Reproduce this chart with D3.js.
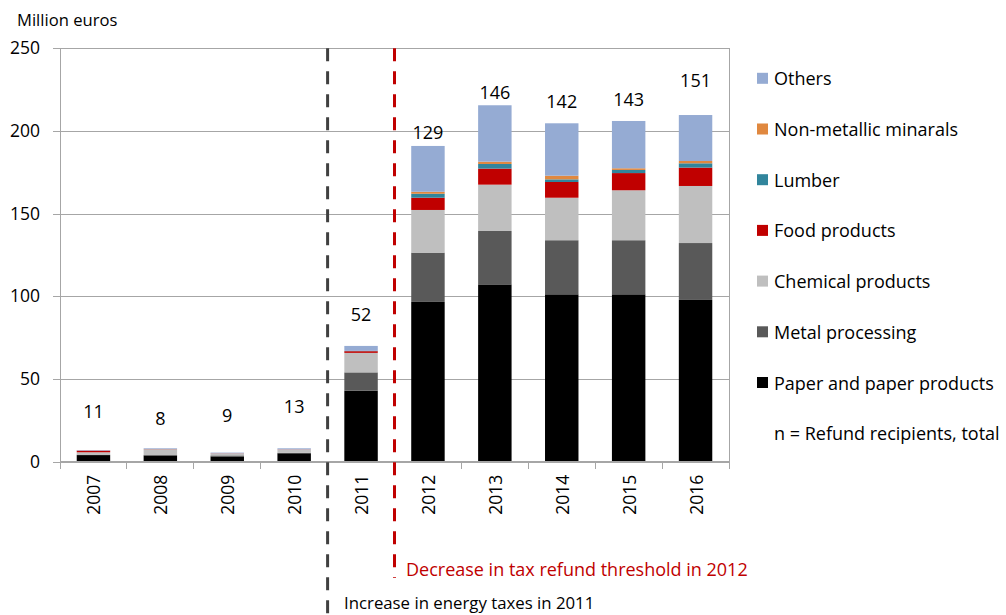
<!DOCTYPE html>
<html>
<head>
<meta charset="utf-8">
<script src="https://cdn.jsdelivr.net/npm/d3@7"></script>
<style>
  html, body { margin: 0; padding: 0; background: #fff; }
  svg { display: block; font-family: "Open Sans", "Noto Sans", sans-serif; }
</style>
</head>
<body>
<svg id="chart" width="1006" height="615"></svg>
<script>
// Energy tax refunds by industry, million euros
const years = ["2007", "2008", "2009", "2010", "2011", "2012", "2013", "2014", "2015", "2016"];

const paper     = [4.0, 3.8, 3.2, 5.1, 42.9, 96.6, 107.2, 101.2, 101.2, 97.8];
const metal     = [0.3, 0.2, 0.6, 0.3, 11.1, 29.8, 32.3, 32.7, 32.7, 34.4];
const chemical  = [1.4, 3.6, 1.2, 2.0, 11.8, 25.8, 28.0, 25.7, 30.2, 34.5];
const food      = [1.0, 0.1, 0.1, 0.1, 1.0, 7.4, 9.7, 9.5, 10.4, 11.1];
const lumber    = [0.0, 0.0, 0.0, 0.0, 0.1, 2.4, 2.8, 1.6, 1.9, 2.6];
const nonmetal  = [0.0, 0.0, 0.0, 0.0, 0.1, 1.2, 1.4, 2.2, 1.0, 1.4];
const others    = [0.3, 0.4, 0.4, 0.6, 3.0, 27.7, 34.1, 31.7, 28.6, 27.8];

// Number of refund recipients per year
const recipients = [11, 8, 9, 13, 52, 129, 146, 142, 143, 151];

const seriesNames  = ["Paper and paper products", "Metal processing", "Chemical products",
                      "Food products", "Lumber", "Non-metallic minarals", "Others"];
const seriesValues = [paper, metal, chemical, food, lumber, nonmetal, others];
const seriesColors = ["#000000", "#595959", "#bfbfbf", "#c00000", "#31859c", "#e0883f", "#95abd3"];

const yTicks = [0, 50, 100, 150, 200, 250];

const events = [
  { after: "2010", text: "Increase in energy taxes in 2011", color: "#404040", textColor: "#000000" },
  { after: "2011", text: "Decrease in tax refund threshold in 2012", color: "#c00000", textColor: "#c00000" }
];

const svg = d3.select("#chart");
const plotLeft = 60, plotRight = 729, plotTop = 48.2, plotBottom = 461.7;

const x = d3.scaleBand().domain(years).range([plotLeft, plotRight]).paddingInner(0.5).paddingOuter(0.25);
const y = d3.scaleLinear().domain([0, 250]).range([plotBottom, plotTop]);
// secondary scale used to place the recipient counts
const yN = d3.scaleLinear().domain([0, 175]).range([plotBottom, plotTop]);

const rows = years.map((yr, i) => {
  const r = { year: yr };
  seriesNames.forEach((n, s) => { r[n] = seriesValues[s][i]; });
  return r;
});
const stacked = d3.stack().keys(seriesNames)(rows);

// gridlines
const grid = svg.append("g")
  .attr("transform", `translate(${plotLeft},0)`)
  .call(d3.axisLeft(y).tickValues(yTicks).tickSize(-(plotRight - plotLeft)).tickFormat(""));
grid.select(".domain").remove();
grid.selectAll("line").attr("stroke", "#a6a6a6").attr("shape-rendering", "crispEdges");

// right frame line
svg.append("line")
  .attr("x1", plotRight).attr("x2", plotRight).attr("y1", plotTop).attr("y2", plotBottom)
  .attr("stroke", "#a6a6a6").attr("shape-rendering", "crispEdges");

// y axis with labels
const yAxis = svg.append("g")
  .attr("transform", `translate(${plotLeft},0)`)
  .call(d3.axisLeft(y).tickValues(yTicks).tickSize(7).tickPadding(13));
yAxis.select(".domain").attr("stroke", "#a6a6a6").attr("shape-rendering", "crispEdges");
yAxis.selectAll("line").attr("stroke", "#a6a6a6").attr("shape-rendering", "crispEdges");
yAxis.selectAll("text").attr("font-size", 17.5).attr("fill", "#000")
  .attr("font-family", "'Open Sans', sans-serif");

// bars
svg.append("g").selectAll("g")
  .data(stacked).join("g")
  .attr("fill", (d, i) => seriesColors[i])
  .selectAll("rect")
  .data(d => d).join("rect")
  .attr("x", d => x(d.data.year))
  .attr("width", x.bandwidth())
  .attr("y", d => y(d[1]))
  .attr("height", d => Math.max(0, y(d[0]) - y(d[1])));

// x axis: line with ticks at category boundaries
const step = x.step();
const boundaries = d3.range(years.length + 1).map(i => plotLeft + i * step);
svg.append("line")
  .attr("x1", plotLeft).attr("x2", plotRight).attr("y1", plotBottom).attr("y2", plotBottom)
  .attr("stroke", "#a6a6a6").attr("shape-rendering", "crispEdges");
svg.append("g").selectAll("line")
  .data(boundaries).join("line")
  .attr("x1", d => d).attr("x2", d => d)
  .attr("y1", plotBottom).attr("y2", plotBottom + 7)
  .attr("stroke", "#a6a6a6").attr("shape-rendering", "crispEdges");

// rotated year labels
svg.append("g").selectAll("text")
  .data(years).join("text")
  .attr("transform", d => `translate(${x(d) + x.bandwidth() / 2},${plotBottom + 13}) rotate(-90)`)
  .attr("text-anchor", "end")
  .attr("dominant-baseline", "central")
  .attr("font-size", 17.5)
  .text(d => d);

// recipient counts
svg.append("g").selectAll("text")
  .data(years).join("text")
  .attr("x", d => x(d) + x.bandwidth() / 2)
  .attr("y", (d, i) => yN(recipients[i]) - 25)
  .attr("text-anchor", "middle")
  .attr("dominant-baseline", "central")
  .attr("font-size", 18)
  .text((d, i) => recipients[i]);

// policy change markers
const markerEnds = [615, 578];
events.forEach((ev, i) => {
  const bx = x(ev.after) + x.bandwidth() + step * 0.25;
  svg.append("line")
    .attr("x1", bx).attr("x2", bx)
    .attr("y1", plotTop).attr("y2", markerEnds[i])
    .attr("stroke", ev.color).attr("stroke-width", 3)
    .attr("stroke-dasharray", "13,10");
});
svg.append("text")
  .attr("x", 344).attr("y", 609)
  .attr("font-size", 16.8).attr("fill", events[0].textColor)
  .text(events[0].text);
svg.append("text")
  .attr("x", 406).attr("y", 576)
  .attr("font-size", 18).attr("fill", events[1].textColor)
  .text(events[1].text);

// unit label
svg.append("text")
  .attr("x", 17).attr("y", 26)
  .attr("font-size", 16.6)
  .text("Million euros");

// legend (top to bottom: Others ... Paper, then note)
const legendItems = seriesNames.map((n, i) => ({ name: n, color: seriesColors[i] })).reverse();
const lg = svg.append("g");
const rowY = i => 78.3 + i * 50.7;
lg.selectAll("rect")
  .data(legendItems).join("rect")
  .attr("x", 757).attr("y", (d, i) => rowY(i) - 5.5)
  .attr("width", 11).attr("height", 11)
  .attr("fill", d => d.color);
lg.selectAll("text")
  .data(legendItems).join("text")
  .attr("x", 774).attr("y", (d, i) => rowY(i))
  .attr("dominant-baseline", "central")
  .attr("font-size", 18)
  .text(d => d.name);
lg.append("text")
  .attr("x", 774).attr("y", rowY(legendItems.length))
  .attr("dominant-baseline", "central")
  .attr("font-size", 18)
  .text("n = Refund recipients, total");
</script>
</body>
</html>
